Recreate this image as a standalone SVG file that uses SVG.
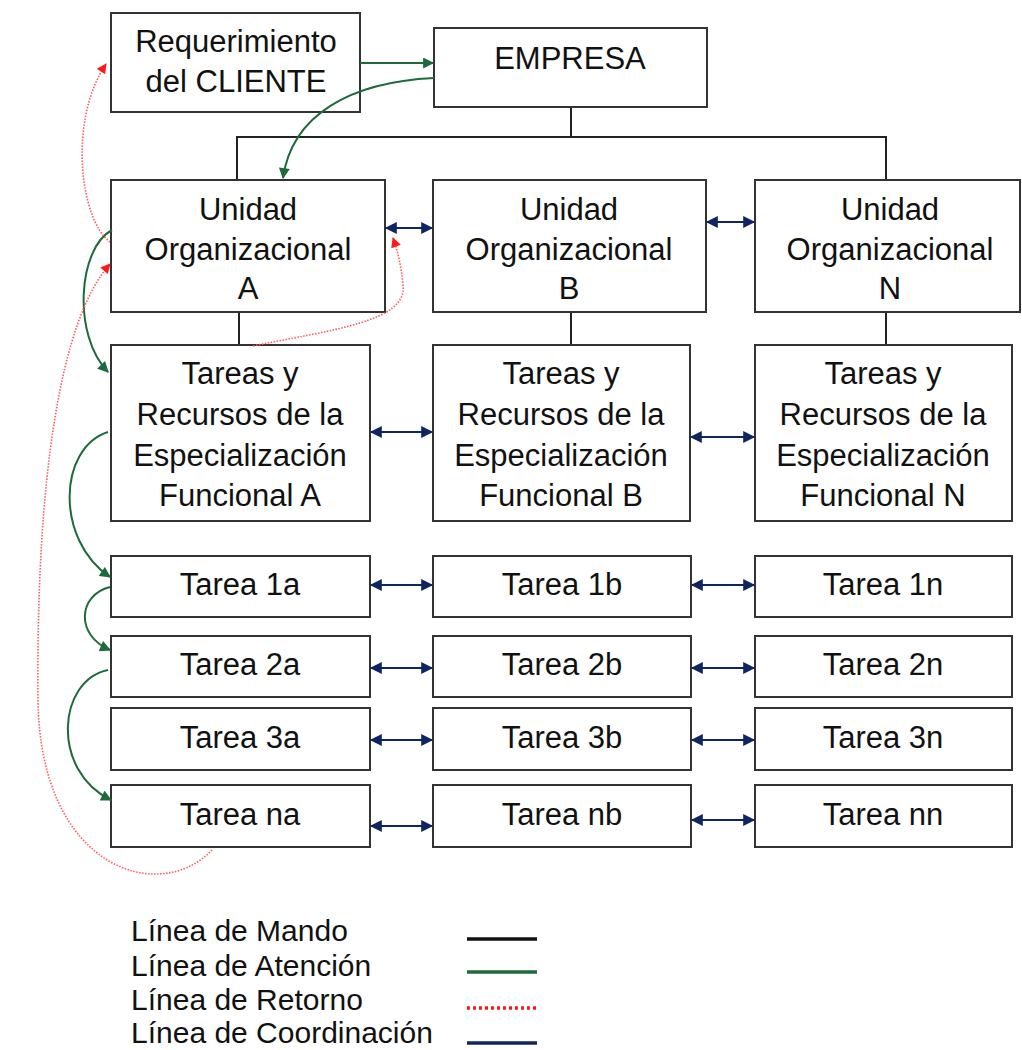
<svg xmlns="http://www.w3.org/2000/svg" width="1022" height="1050" viewBox="0 0 1022 1050">
<style>
.box{fill:#fff;stroke:#333;stroke-width:2}
.t{font-family:"Liberation Sans",Arial,sans-serif;font-size:31px;fill:#111;text-anchor:middle}
.lg{font-family:"Liberation Sans",Arial,sans-serif;font-size:30px;fill:#111}
.cmd{stroke:#222;stroke-width:2;fill:none}
.att{stroke:#1d6b3a;stroke-width:2;fill:none;marker-end:url(#ga)}
.ret{stroke:#ff5a5a;stroke-width:1.6;stroke-dasharray:1.5 1.5;fill:none;marker-end:url(#ra)}
.crd{stroke:#0f2463;stroke-width:2;fill:none;marker-start:url(#na);marker-end:url(#na)}
</style>
<defs>
<marker id="ga" viewBox="0 0 10 10" refX="9" refY="5" markerWidth="13" markerHeight="11" orient="auto" markerUnits="userSpaceOnUse">
<path d="M0,0 L10,5 L0,10 z" fill="#1d6b3a"/></marker>
<marker id="ra" viewBox="0 0 10 10" refX="9" refY="5" markerWidth="12" markerHeight="10" orient="auto" markerUnits="userSpaceOnUse">
<path d="M0,0 L10,5 L0,10 z" fill="#ff1a1a"/></marker>
<marker id="na" viewBox="0 0 10 10" refX="9" refY="5" markerWidth="14" markerHeight="12" orient="auto-start-reverse" markerUnits="userSpaceOnUse">
<path d="M0,0 L10,5 L0,10 z" fill="#0f2463"/></marker>
</defs>

<g id="command-lines">
<path class="cmd" d="M571,107 V137 M237,180 V137 H886 V180 M239,312 V345 M571,312 V345 M886,312 V345"/>
</g>

<g id="req"><rect class="box" x="111" y="13" width="249" height="99"/>
<text class="t" x="236" y="52">Requerimiento</text><text class="t" x="236" y="92">del CLIENTE</text></g>
<g id="empresa"><rect class="box" x="434" y="28" width="273" height="79"/>
<text class="t" x="570" y="69">EMPRESA</text></g>

<g id="unitA"><rect class="box" x="111" y="180" width="274" height="132"/>
<text class="t" x="248" y="220">Unidad</text><text class="t" x="248" y="260">Organizacional</text><text class="t" x="248" y="299">A</text></g>
<g id="unitB"><rect class="box" x="433" y="180" width="273" height="132"/>
<text class="t" x="569" y="220">Unidad</text><text class="t" x="569" y="260">Organizacional</text><text class="t" x="569" y="299">B</text></g>
<g id="unitN"><rect class="box" x="755" y="180" width="265" height="132"/>
<text class="t" x="890" y="220">Unidad</text><text class="t" x="890" y="260">Organizacional</text><text class="t" x="890" y="299">N</text></g>

<g id="tarA"><rect class="box" x="111" y="345" width="259" height="176"/>
<text class="t" x="240" y="384">Tareas y</text><text class="t" x="240" y="425">Recursos de la</text><text class="t" x="240" y="466">Especialización</text><text class="t" x="240" y="506">Funcional A</text></g>
<g id="tarB"><rect class="box" x="433" y="345" width="257" height="176"/>
<text class="t" x="561" y="384">Tareas y</text><text class="t" x="561" y="425">Recursos de la</text><text class="t" x="561" y="466">Especialización</text><text class="t" x="561" y="506">Funcional B</text></g>
<g id="tarN"><rect class="box" x="755" y="345" width="257" height="176"/>
<text class="t" x="883" y="384">Tareas y</text><text class="t" x="883" y="425">Recursos de la</text><text class="t" x="883" y="466">Especialización</text><text class="t" x="883" y="506">Funcional N</text></g>

<g id="t1a"><rect class="box" x="111" y="556" width="259" height="61"/><text class="t" x="240" y="595">Tarea 1a</text></g>
<g id="t1b"><rect class="box" x="433" y="556" width="258" height="61"/><text class="t" x="562" y="595">Tarea 1b</text></g>
<g id="t1n"><rect class="box" x="755" y="556" width="257" height="61"/><text class="t" x="883" y="595">Tarea 1n</text></g>
<g id="t2a"><rect class="box" x="111" y="636" width="259" height="61"/><text class="t" x="240" y="675">Tarea 2a</text></g>
<g id="t2b"><rect class="box" x="433" y="636" width="258" height="61"/><text class="t" x="562" y="675">Tarea 2b</text></g>
<g id="t2n"><rect class="box" x="755" y="636" width="257" height="61"/><text class="t" x="883" y="675">Tarea 2n</text></g>
<g id="t3a"><rect class="box" x="111" y="708" width="259" height="62"/><text class="t" x="240" y="748">Tarea 3a</text></g>
<g id="t3b"><rect class="box" x="433" y="708" width="258" height="62"/><text class="t" x="562" y="748">Tarea 3b</text></g>
<g id="t3n"><rect class="box" x="755" y="708" width="257" height="62"/><text class="t" x="883" y="748">Tarea 3n</text></g>
<g id="tna"><rect class="box" x="111" y="785" width="259" height="62"/><text class="t" x="240" y="825">Tarea na</text></g>
<g id="tnb"><rect class="box" x="433" y="785" width="258" height="62"/><text class="t" x="562" y="825">Tarea nb</text></g>
<g id="tnn"><rect class="box" x="755" y="785" width="257" height="62"/><text class="t" x="883" y="825">Tarea nn</text></g>

<g id="connectors">
<path class="att" d="M360,63 H433"/>
<path class="att" d="M434,78 C350,82 292,115 283,178"/>
<path class="att" d="M112,230 C78,248 72,335 108,372"/>
<path class="att" d="M108,432 C58,448 55,540 110,577"/>
<path class="att" d="M110,587 C78,595 75,635 110,650"/>
<path class="att" d="M108,670 C58,680 50,770 111,800"/>

<path class="ret" d="M110,242 C80,220 68,120 106,64"/>
<path class="ret" d="M212,850 C160,905 40,870 38,700 C36,480 60,320 110,264"/>
<path class="ret" d="M253,346 C330,330 408,322 403,285 C401,265 398,252 393,238"/>

<path class="crd" d="M386,228 H432"/>
<path class="crd" d="M707,222 H754"/>
<path class="crd" d="M371,432 H432"/>
<path class="crd" d="M691,437 H754"/>
<path class="crd" d="M371,585 H432"/>
<path class="crd" d="M692,585 H754"/>
<path class="crd" d="M371,668 H432"/>
<path class="crd" d="M692,668 H754"/>
<path class="crd" d="M371,740 H432"/>
<path class="crd" d="M692,740 H754"/>
<path class="crd" d="M371,826 H432"/>
<path class="crd" d="M692,820 H754"/>
</g>

<g id="legend">
<text class="lg" x="131" y="941">Línea de Mando</text>
<text class="lg" x="131" y="976">Línea de Atención</text>
<text class="lg" x="131" y="1010">Línea de Retorno</text>
<text class="lg" x="131" y="1043">Línea de Coordinación</text>
<line x1="467" y1="939" x2="537" y2="939" stroke="#111" stroke-width="3.5"/>
<line x1="467" y1="972" x2="537" y2="972" stroke="#1d6b3a" stroke-width="3.5"/>
<line x1="467" y1="1008" x2="537" y2="1008" stroke="#ff1a1a" stroke-width="3.5" stroke-dasharray="3 3"/>
<line x1="467" y1="1043" x2="537" y2="1043" stroke="#0f2463" stroke-width="3.5"/>
</g>
</svg>
